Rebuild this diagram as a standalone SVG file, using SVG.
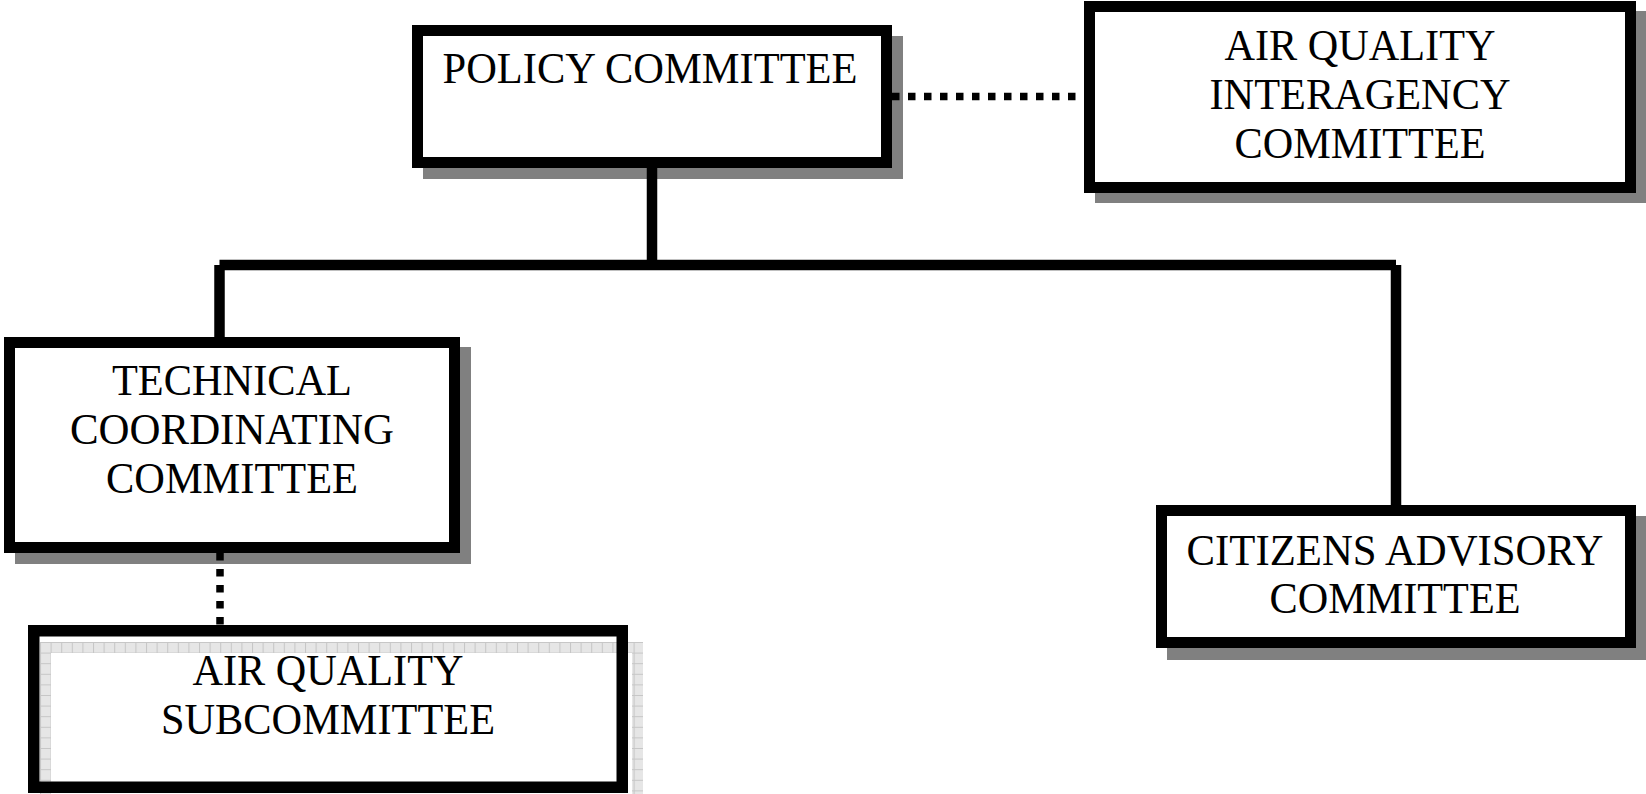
<svg xmlns="http://www.w3.org/2000/svg" width="1646" height="794" viewBox="0 0 1646 794">
<style>
.box{fill:#ffffff;stroke:#000000;stroke-width:11}
.frame{fill:none;stroke:#000000;stroke-width:11.5}
.shadow{fill:#808080}
.lbl{font-family:"Liberation Serif","Times New Roman",serif;font-size:45px;fill:#000000;text-anchor:middle}
.solid{stroke:#000000;stroke-width:10.5;fill:none}
.dot{stroke:#000000;stroke-width:7.5;fill:none;stroke-dasharray:7.5 8.5}
</style>
<defs>
<pattern id="grid" x="40" y="642" width="10.6" height="10.6" patternUnits="userSpaceOnUse">
<rect width="10.6" height="10.6" fill="#e6e6e6"/>
<path d="M0 0.5H10.6M0.5 0V10.6" stroke="#c6c6c6" stroke-width="1"/>
</pattern>
</defs>
<rect width="1646" height="794" fill="#ffffff"/>
<g id="policy">
<rect class="shadow" x="423" y="36" width="480" height="143"/>
<rect class="box" x="417.5" y="30.5" width="469" height="132"/>
<text class="lbl" x="650" y="83" textLength="415" lengthAdjust="spacingAndGlyphs">POLICY COMMITTEE</text>
</g>
<g id="interagency">
<rect class="shadow" x="1095" y="11" width="551" height="192"/>
<rect class="box" x="1089.5" y="6.5" width="541" height="181"/>
<text class="lbl" x="1360" y="60" textLength="271" lengthAdjust="spacingAndGlyphs">AIR QUALITY</text>
<text class="lbl" x="1360" y="109" textLength="301" lengthAdjust="spacingAndGlyphs">INTERAGENCY</text>
<text class="lbl" x="1360" y="158" textLength="251" lengthAdjust="spacingAndGlyphs">COMMITTEE</text>
</g>
<g id="technical">
<rect class="shadow" x="15" y="347" width="456" height="217"/>
<rect class="box" x="9.5" y="342.5" width="445" height="205"/>
<text class="lbl" x="232" y="395" textLength="240" lengthAdjust="spacingAndGlyphs">TECHNICAL</text>
<text class="lbl" x="232" y="444" textLength="324" lengthAdjust="spacingAndGlyphs">COORDINATING</text>
<text class="lbl" x="232" y="493" textLength="252" lengthAdjust="spacingAndGlyphs">COMMITTEE</text>
</g>
<g id="citizens">
<rect class="shadow" x="1167" y="516" width="479" height="144"/>
<rect class="box" x="1161.5" y="510.5" width="469" height="132"/>
<text class="lbl" x="1395" y="565" textLength="417" lengthAdjust="spacingAndGlyphs">CITIZENS ADVISORY</text>
<text class="lbl" x="1395" y="613" textLength="251" lengthAdjust="spacingAndGlyphs">COMMITTEE</text>
</g>
<g id="subcommittee">
<rect x="28" y="625" width="600" height="169" fill="#ffffff"/>
<rect x="40" y="642" width="603" height="152" fill="url(#grid)"/>
<rect x="51" y="653" width="581" height="141" fill="#ffffff"/>
<rect class="frame" x="33.75" y="630.75" width="588.5" height="156.5"/>
<text class="lbl" x="328" y="685" textLength="271" lengthAdjust="spacingAndGlyphs">AIR QUALITY</text>
<text class="lbl" x="328" y="734" textLength="334" lengthAdjust="spacingAndGlyphs">SUBCOMMITTEE</text>
</g>
<g id="connectors">
<line class="solid" x1="652" y1="168" x2="652" y2="265"/>
<line class="solid" x1="219.5" y1="265" x2="1396" y2="265"/>
<line class="solid" x1="219.5" y1="265" x2="219.5" y2="337"/>
<line class="solid" x1="1396" y1="265" x2="1396" y2="505"/>
<line class="dot" x1="892" y1="96.5" x2="1084" y2="96.5"/>
<line class="dot" x1="220" y1="553" x2="220" y2="625"/>
</g>
</svg>
